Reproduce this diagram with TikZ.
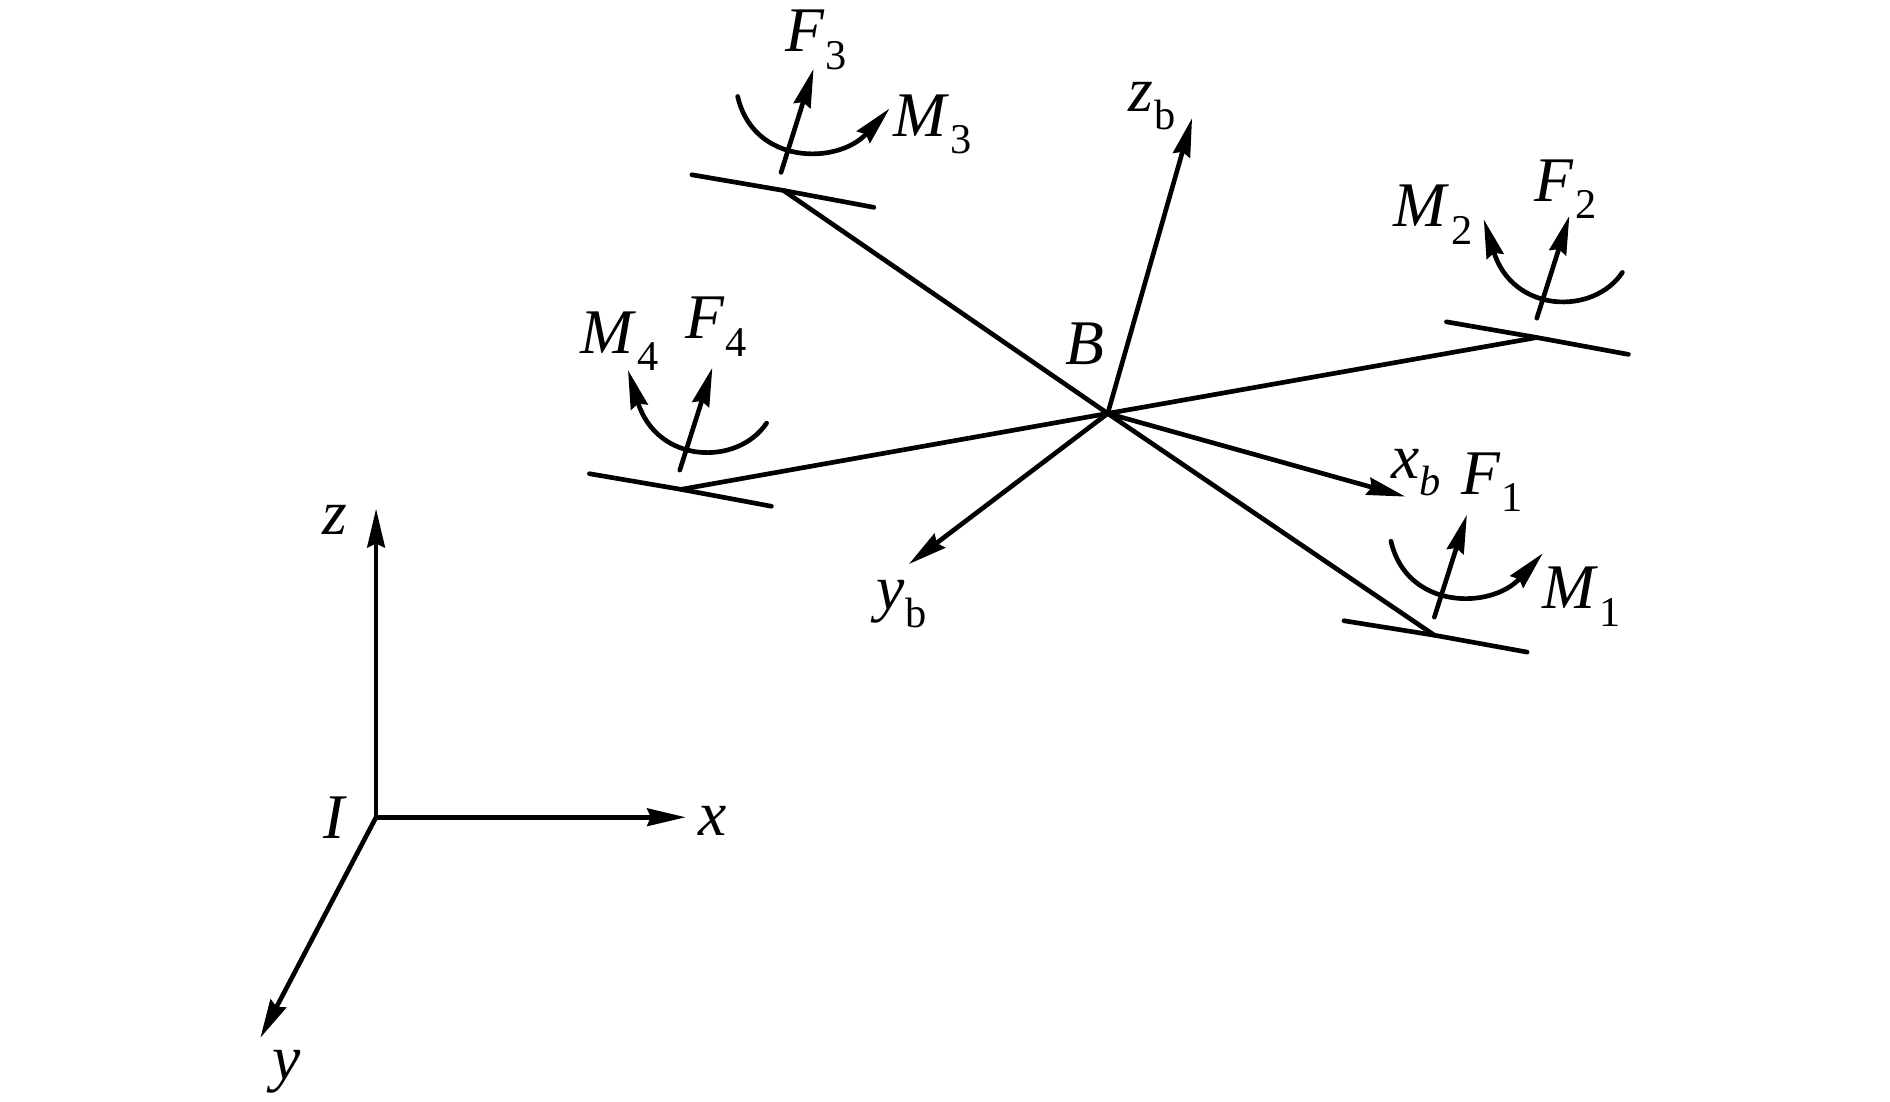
\documentclass[tikz,border=0pt]{standalone}
\usepackage{fontspec}
\setmainfont{Liberation Serif}
\usetikzlibrary{arrows.meta}
\newcommand{\symsub}[2]{\textit{#1}\kern0.02em\raisebox{-0.6ex}{\fontsize{10}{12}\selectfont #2}}
\tikzset{
    arm/.style={line width=1.1pt, line cap=round},
    vec/.style={arm, -{Stealth[length=3.2mm, width=1.45mm, inset=0.3mm]}},
    lbl/.style={inner sep=0pt, font=\fontsize{15}{18}\selectfont}
}
\begin{document}
\begin{tikzpicture}[x=0.01cm, y=-0.01cm]
            \useasboundingbox (0,0) rectangle (1568,914);

            \coordinate (body) at (919,343);
            \coordinate (inert) at (312,678);
% rotor hubs
            \coordinate (hubA) at (1190,527);
            \coordinate (hubB) at (1275,280);
            \coordinate (hubC) at (650,158);
            \coordinate (hubD) at (565,406);
% arms
            \draw [arm] (body) -- (hubA);
            \draw [arm] (body) -- (hubB);
            \draw [arm] (body) -- (hubC);
            \draw [arm] (body) -- (hubD);
% rotor bars
            \draw [arm] (1115,515) -- (hubA) -- (1267,541);
            \draw [arm] (1200,267) -- (hubB) -- (1351,294);
            \draw [arm] (574,145) -- (hubC) -- (725,172);
            \draw [arm] (489,393) -- (hubD) -- (640,420);
% body axes
            \coordinate (xbtip) at (1166,412);
            \coordinate (ybtip) at (754,468);
            \coordinate (zbtip) at (989,98);
            \draw [vec] (body) -- (xbtip);
            \draw [vec] (body) -- (ybtip);
            \draw [vec] (body) -- (zbtip);
% inertial axes
            \coordinate (xtip) at (569,678);
            \coordinate (ytip) at (216,861);
            \coordinate (ztip) at (312,422);
            \draw [vec] (inert) -- (xtip);
            \draw [vec] (inert) -- (ytip);
            \draw [vec] (inert) -- (ztip);
% thrust
            \draw [vec] (1190,512) -- (1217,427);
            \draw [vec] (1275,264) -- (1302,179);
            \draw [vec] (648,143) -- (675,57);
            \draw [vec] (564,390) -- (591,305);
% moments
            \draw [vec] (1154,449) .. controls (1167,506) and (1237,506) .. (1280,459);
            \draw [vec] (1346,226) .. controls (1322,262) and (1255,260) .. (1231,182);
            \draw [vec] (612,80) .. controls (625,137) and (695,137) .. (738,90);
            \draw [vec] (636,351) .. controls (612,387) and (545,385) .. (521,307);
% labels
            \node [lbl] (labF1) at (1238,400) {\symsub{F}{1}};
            \node [lbl] (labM1) at (1312,495) {\symsub{M}{1}};
            \node [lbl] (labF2) at (1299,157) {\symsub{F}{2}};
            \node [lbl] (labM2) at (1189,178) {\symsub{M}{2}};
            \node [lbl] (labF3) at (677,33) {\symsub{F}{3}};
            \node [lbl] (labM3) at (774,103) {\symsub{M}{3}};
            \node [lbl] (labF4) at (594,271) {\symsub{F}{4}};
            \node [lbl] (labM4) at (514,283) {\symsub{M}{4}};
            \node [lbl] (labB) at (900,285) {\textit{B}};
            \node [lbl] (labzb) at (956,88) {\symsub{z}{b}};
            \node [lbl] (labyb) at (748,501) {\symsub{y}{b}};
            \node [lbl] (labxb) at (1175,392) {\textit{x}\raisebox{-0.6ex}{\fontsize{10}{12}\selectfont\textit{b}}};
            \node [lbl] (labI) at (278,678) {\textit{I}};
            \node [lbl] (labx) at (591,681) {\textit{x}};
            \node [lbl] (laby) at (238,889) {\textit{y}};
            \node [lbl] (labz) at (278,431) {\textit{z}};

        \end{tikzpicture}
\end{document}
